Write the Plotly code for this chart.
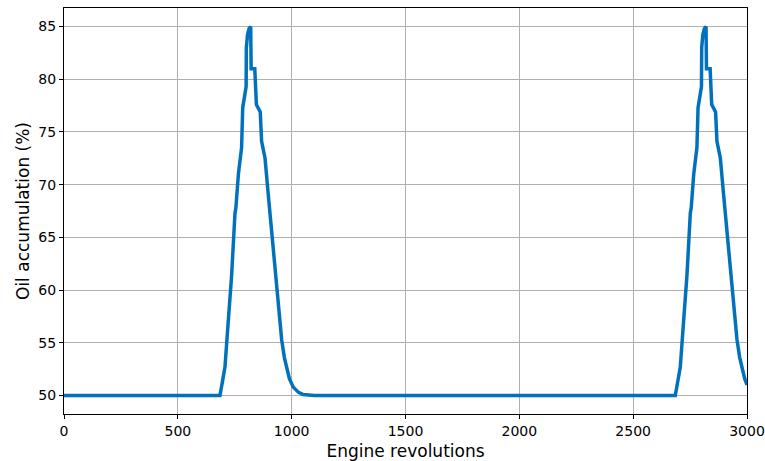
import plotly.graph_objects as go

# Engine revolutions and the measured oil accumulation (%) at each point
revolutions = [
    0, 685, 695, 707, 722, 736, 751, 755, 766, 780, 785, 792, 800, 801, 806, 813, 820,
    822, 838, 845, 862, 868, 883, 897, 912, 934, 956, 968, 978, 990, 1007, 1030, 1051, 1100,
    2685, 2695, 2707, 2722, 2736, 2751, 2755, 2766, 2780, 2785, 2792, 2800, 2801, 2806, 2813, 2820,
    2822, 2838, 2845, 2862, 2868, 2883, 2897, 2912, 2934, 2956, 2968, 2978, 2990, 3000,
]
oil_accumulation = [
    50.0, 50.0, 51.2, 52.7, 57.2, 61.3, 67.3, 67.8, 71.0, 73.5, 77.3, 78.5, 79.3, 83.0, 84.2, 84.8, 85.0,
    81.0, 81.0, 77.6, 76.9, 74.1, 72.5, 69.1, 65.4, 60.0, 55.3, 53.6, 52.5, 51.6, 50.8, 50.3, 50.1, 50.0,
    50.0, 51.2, 52.7, 57.2, 61.3, 67.3, 67.8, 71.0, 73.5, 77.3, 78.5, 79.3, 83.0, 84.2, 84.8, 85.0,
    81.0, 81.0, 77.6, 76.9, 74.1, 72.5, 69.1, 65.4, 60.0, 55.3, 53.6, 52.5, 51.6, 51.0,
]

x_ticks = [0, 500, 1000, 1500, 2000, 2500, 3000]
y_ticks = [50, 55, 60, 65, 70, 75, 80, 85]

fig = go.Figure(
    go.Scatter(
        x=revolutions,
        y=oil_accumulation,
        mode="lines",
        line=dict(color="#0072BD", width=3.5),
        hoverinfo="x+y",
    )
)

axis_common = dict(
    showline=True,
    linecolor="black",
    linewidth=1,
    mirror=True,
    ticks="outside",
    ticklen=4,
    tickcolor="black",
    showgrid=True,
    gridcolor="#b0b0b0",
    gridwidth=1,
    zeroline=False,
    automargin=False,
    tickfont=dict(family="DejaVu Sans", size=14, color="black"),
)

fig.update_layout(
    width=765,
    height=461,
    margin=dict(l=64, r=18, t=8, b=47),
    paper_bgcolor="white",
    plot_bgcolor="white",
    showlegend=False,
    font=dict(family="DejaVu Sans", color="black"),
    xaxis=dict(
        axis_common,
        range=[0, 3000],
        tickvals=x_ticks,
        title=dict(text="Engine revolutions", font=dict(size=17), standoff=7),
    ),
    yaxis=dict(
        axis_common,
        range=[48.25, 86.75],
        tickvals=y_ticks,
        title=dict(text="Oil accumulation (%)", font=dict(size=17), standoff=4),
    ),
)

fig.write_html("out.html")
